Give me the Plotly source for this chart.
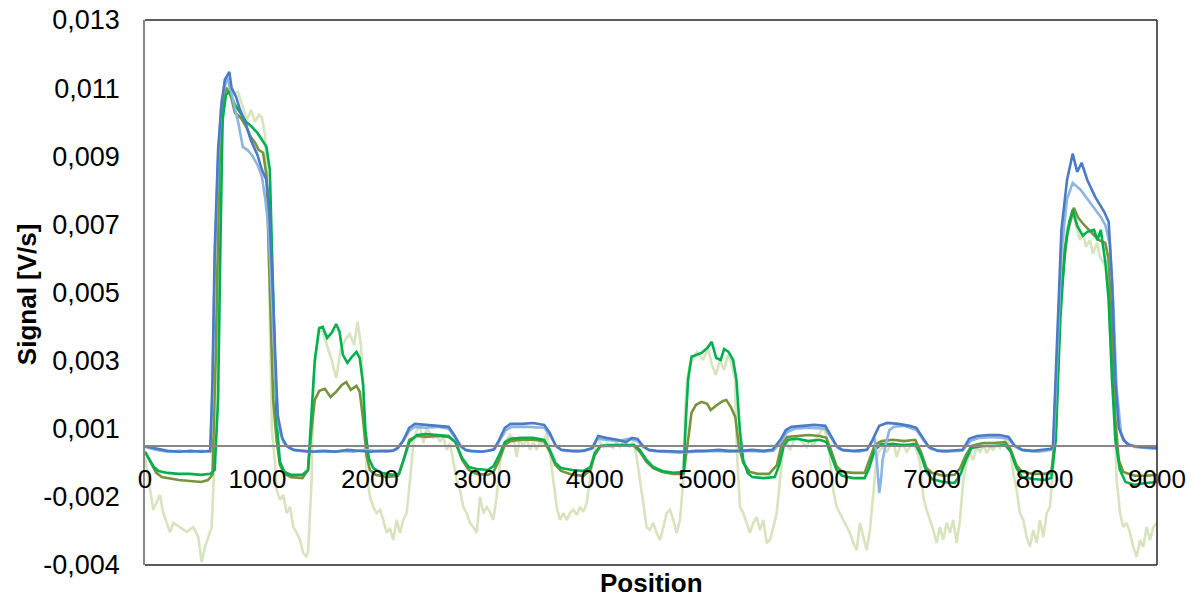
import plotly.graph_objects as go

# ---------------- data (position, signal in V/s) ----------------
series_dark_blue = [
    (0, -0.00002), (100, -0.00010), (200, -0.00016), (310, -0.00019), (400, -0.00016), (500, -0.00019),
    (580, -0.00016), (600, 0.00203), (620, 0.00604), (650, 0.00912), (680, 0.01051), (710, 0.01128),
    (750, 0.01152), (770, 0.01103), (810, 0.01075), (840, 0.01041), (900, 0.00989), (940, 0.00943),
    (1000, 0.00896), (1040, 0.00850), (1080, 0.00819), (1100, 0.00758), (1130, 0.00542), (1160, 0.00264),
    (1180, 0.00094), (1220, 0.00024), (1260, -0.00001), (1320, -0.00013), (1400, -0.00016), (1500, -0.00019),
    (1600, -0.00016), (1700, -0.00019), (1800, -0.00013), (1900, -0.00016), (2000, -0.00019), (2100, -0.00016),
    (2200, -0.00016), (2250, -0.00007), (2300, 0.00018), (2350, 0.00055), (2400, 0.00067), (2500, 0.00064),
    (2600, 0.00061), (2700, 0.00058), (2750, 0.00033), (2800, 0.00002), (2850, -0.00013), (2900, -0.00016),
    (3000, -0.00019), (3100, -0.00013), (3150, 0.00018), (3200, 0.00055), (3250, 0.00067), (3350, 0.00067),
    (3450, 0.00070), (3550, 0.00064), (3600, 0.00039), (3650, 0.00002), (3700, -0.00013), (3800, -0.00016),
    (3900, -0.00016), (3980, -0.00007), (4030, 0.00030), (4100, 0.00024), (4200, 0.00018), (4280, 0.00011),
    (4330, 0.00024), (4380, 0.00021), (4430, -0.00001), (4480, -0.00013), (4550, -0.00016), (4700, -0.00019),
    (4800, -0.00019), (4900, -0.00016), (5000, -0.00016), (5100, -0.00013), (5200, -0.00016), (5300, -0.00016),
    (5400, -0.00013), (5500, -0.00016), (5580, -0.00013), (5650, 0.00018), (5700, 0.00048), (5750, 0.00058),
    (5850, 0.00061), (5950, 0.00064), (6050, 0.00061), (6100, 0.00030), (6150, -0.00001), (6200, -0.00013),
    (6300, -0.00016), (6420, -0.00013), (6470, 0.00018), (6530, 0.00061), (6600, 0.00070), (6700, 0.00067),
    (6800, 0.00061), (6860, 0.00055), (6920, 0.00024), (6970, -0.00004), (7050, -0.00016), (7150, -0.00016),
    (7270, -0.00013), (7330, 0.00021), (7400, 0.00030), (7500, 0.00033), (7600, 0.00033), (7680, 0.00027),
    (7730, 0.00002), (7800, -0.00013), (7900, -0.00016), (8000, -0.00013), (8060, -0.00010), (8075, 0.00002),
    (8110, 0.00295), (8150, 0.00665), (8200, 0.00819), (8250, 0.00900), (8290, 0.00844), (8330, 0.00872),
    (8380, 0.00819), (8450, 0.00767), (8530, 0.00721), (8570, 0.00690), (8600, 0.00511), (8630, 0.00203),
    (8660, 0.00055), (8700, 0.00018), (8750, 0.00002), (8850, -0.00004), (9000, -0.00007),
]

series_light_blue = [
    (0, -0.00004), (100, -0.00013), (200, -0.00019), (300, -0.00016), (400, -0.00019), (500, -0.00016),
    (580, -0.00019), (600, 0.00150), (620, 0.00550), (650, 0.00880), (680, 0.01060), (730, 0.01137),
    (760, 0.01097), (800, 0.01035), (830, 0.00995), (870, 0.00921), (910, 0.00912), (950, 0.00896),
    (1000, 0.00866), (1040, 0.00829), (1070, 0.00758), (1100, 0.00665), (1130, 0.00449), (1160, 0.00203),
    (1190, 0.00055), (1230, 0.00011), (1280, -0.00007), (1350, -0.00016), (1450, -0.00019), (1550, -0.00016),
    (1650, -0.00019), (1750, -0.00016), (1850, -0.00019), (1950, -0.00013), (2050, -0.00016), (2150, -0.00019),
    (2230, -0.00013), (2290, 0.00011), (2350, 0.00045), (2400, 0.00058), (2500, 0.00055), (2600, 0.00058),
    (2700, 0.00052), (2760, 0.00024), (2810, -0.00004), (2860, -0.00016), (2950, -0.00019), (3050, -0.00016),
    (3110, -0.00010), (3160, 0.00018), (3210, 0.00048), (3260, 0.00058), (3400, 0.00058), (3550, 0.00055),
    (3610, 0.00027), (3660, -0.00004), (3720, -0.00016), (3850, -0.00019), (3970, -0.00010), (4020, 0.00021),
    (4100, 0.00018), (4200, 0.00014), (4300, 0.00021), (4380, 0.00014), (4430, -0.00004), (4490, -0.00016),
    (4600, -0.00019), (4750, -0.00022), (4900, -0.00019), (5050, -0.00016), (5200, -0.00019), (5350, -0.00016),
    (5500, -0.00019), (5590, -0.00016), (5660, 0.00014), (5710, 0.00042), (5780, 0.00052), (5900, 0.00055),
    (6050, 0.00052), (6110, 0.00021), (6160, -0.00007), (6220, -0.00016), (6350, -0.00019), (6420, -0.00013),
    (6460, 0.00008), (6490, 0.00024), (6510, -0.00053), (6530, -0.00146), (6545, -0.00106), (6560, -0.00044),
    (6590, 0.00008), (6620, 0.00048), (6660, 0.00058), (6750, 0.00061), (6860, 0.00048), (6930, 0.00014),
    (6990, -0.00010), (7100, -0.00019), (7270, -0.00016), (7340, 0.00014), (7420, 0.00024), (7550, 0.00027),
    (7680, 0.00021), (7740, -0.00004), (7820, -0.00016), (7950, -0.00019), (8060, -0.00013), (8080, 0.00000),
    (8110, 0.00250), (8150, 0.00600), (8200, 0.00760), (8250, 0.00810), (8320, 0.00789), (8410, 0.00748),
    (8500, 0.00705), (8540, 0.00680), (8580, 0.00620), (8610, 0.00450), (8640, 0.00180), (8680, 0.00040),
    (8720, 0.00010), (8800, -0.00004), (9000, -0.00010),
]

series_olive = [
    (0, -0.00019), (40, -0.00044), (100, -0.00084), (150, -0.00097), (200, -0.00100), (300, -0.00106),
    (400, -0.00109), (500, -0.00112), (560, -0.00106), (600, -0.00090), (630, 0.00295), (660, 0.00850),
    (700, 0.01066), (720, 0.01103), (760, 0.01082), (800, 0.01026), (850, 0.01011), (900, 0.00983),
    (940, 0.00952), (980, 0.00933), (1010, 0.00912), (1050, 0.00903), (1080, 0.00835), (1110, 0.00449),
    (1140, 0.00141), (1170, 0.00018), (1200, -0.00060), (1240, -0.00087), (1300, -0.00097), (1400, -0.00100),
    (1450, -0.00075), (1480, 0.00048), (1510, 0.00141), (1550, 0.00169), (1600, 0.00175), (1650, 0.00150),
    (1700, 0.00166), (1750, 0.00187), (1790, 0.00196), (1830, 0.00172), (1880, 0.00184), (1910, 0.00166),
    (1940, 0.00079), (1970, -0.00029), (2000, -0.00075), (2050, -0.00090), (2150, -0.00097), (2250, -0.00093),
    (2300, -0.00044), (2350, 0.00018), (2420, 0.00030), (2500, 0.00027), (2600, 0.00030), (2700, 0.00027),
    (2760, 0.00011), (2820, -0.00044), (2880, -0.00075), (2950, -0.00087), (3050, -0.00090), (3100, -0.00081),
    (3150, -0.00044), (3200, 0.00002), (3250, 0.00014), (3350, 0.00018), (3450, 0.00018), (3550, 0.00014),
    (3600, -0.00019), (3650, -0.00060), (3700, -0.00078), (3800, -0.00090), (3900, -0.00093), (3960, -0.00075),
    (4000, -0.00029), (4050, -0.00001), (4150, -0.00001), (4250, 0.00002), (4350, -0.00001), (4400, -0.00019),
    (4460, -0.00050), (4520, -0.00069), (4600, -0.00081), (4700, -0.00087), (4790, -0.00087), (4830, 0.00018),
    (4860, 0.00101), (4900, 0.00126), (4950, 0.00135), (5000, 0.00129), (5030, 0.00110), (5090, 0.00126),
    (5140, 0.00138), (5170, 0.00141), (5210, 0.00119), (5250, 0.00088), (5280, 0.00002), (5320, -0.00053),
    (5380, -0.00081), (5450, -0.00087), (5550, -0.00087), (5620, -0.00060), (5660, 0.00002), (5710, 0.00027),
    (5800, 0.00030), (5900, 0.00033), (6000, 0.00030), (6060, 0.00024), (6100, -0.00013), (6150, -0.00063),
    (6200, -0.00081), (6300, -0.00084), (6400, -0.00084), (6440, -0.00044), (6490, 0.00002), (6550, 0.00014),
    (6650, 0.00018), (6750, 0.00014), (6850, 0.00018), (6900, -0.00019), (6950, -0.00069), (7000, -0.00084),
    (7100, -0.00093), (7200, -0.00090), (7250, -0.00069), (7300, -0.00029), (7350, -0.00001), (7450, 0.00008),
    (7550, 0.00008), (7650, 0.00011), (7700, -0.00013), (7750, -0.00060), (7800, -0.00081), (7900, -0.00087),
    (8000, -0.00087), (8060, -0.00084), (8100, 0.00048), (8140, 0.00449), (8200, 0.00650), (8260, 0.00733),
    (8300, 0.00702), (8350, 0.00681), (8420, 0.00656), (8480, 0.00634), (8540, 0.00625), (8570, 0.00573),
    (8600, 0.00357), (8630, 0.00079), (8660, -0.00044), (8700, -0.00081), (8800, -0.00093), (8900, -0.00093),
    (9000, -0.00090),
]

series_green = [
    (0, -0.00019), (40, -0.00044), (80, -0.00066), (120, -0.00078), (200, -0.00084), (300, -0.00087),
    (400, -0.00087), (500, -0.00090), (580, -0.00087), (620, -0.00075), (650, 0.00141), (670, 0.00604),
    (690, 0.01004), (720, 0.01082), (750, 0.01090), (800, 0.01051), (850, 0.01026), (900, 0.00998),
    (950, 0.00983), (1000, 0.00964), (1040, 0.00943), (1080, 0.00921), (1110, 0.00850), (1140, 0.00449),
    (1170, 0.00079), (1200, -0.00050), (1240, -0.00081), (1300, -0.00090), (1400, -0.00090), (1450, -0.00075),
    (1480, 0.00079), (1510, 0.00264), (1550, 0.00363), (1580, 0.00366), (1620, 0.00332), (1660, 0.00348),
    (1700, 0.00375), (1730, 0.00351), (1760, 0.00280), (1800, 0.00255), (1840, 0.00274), (1880, 0.00289),
    (1910, 0.00270), (1940, 0.00187), (1960, 0.00048), (1990, -0.00038), (2030, -0.00069), (2100, -0.00084),
    (2200, -0.00090), (2260, -0.00087), (2300, -0.00044), (2350, 0.00011), (2420, 0.00033), (2500, 0.00036),
    (2600, 0.00033), (2700, 0.00030), (2760, 0.00011), (2820, -0.00038), (2880, -0.00066), (2950, -0.00072),
    (3050, -0.00075), (3100, -0.00063), (3150, -0.00029), (3200, 0.00011), (3250, 0.00021), (3350, 0.00024),
    (3450, 0.00024), (3550, 0.00018), (3600, -0.00013), (3650, -0.00053), (3700, -0.00069), (3800, -0.00075),
    (3900, -0.00078), (3960, -0.00066), (4000, -0.00023), (4050, -0.00001), (4150, 0.00002), (4250, 0.00002),
    (4350, 0.00002), (4400, -0.00013), (4460, -0.00044), (4520, -0.00066), (4600, -0.00078), (4700, -0.00084),
    (4790, -0.00081), (4810, 0.00079), (4830, 0.00203), (4860, 0.00274), (4900, 0.00280), (4950, 0.00286),
    (5000, 0.00301), (5040, 0.00320), (5080, 0.00270), (5120, 0.00264), (5150, 0.00298), (5190, 0.00289),
    (5230, 0.00264), (5260, 0.00203), (5290, 0.00048), (5320, -0.00044), (5360, -0.00084), (5400, -0.00097),
    (5500, -0.00100), (5600, -0.00097), (5640, -0.00060), (5680, -0.00001), (5720, 0.00018), (5800, 0.00021),
    (5900, 0.00014), (6000, 0.00018), (6060, 0.00011), (6100, -0.00029), (6150, -0.00075), (6200, -0.00093),
    (6300, -0.00100), (6400, -0.00100), (6440, -0.00069), (6490, -0.00013), (6550, 0.00005), (6650, 0.00005),
    (6750, 0.00002), (6850, 0.00005), (6900, -0.00029), (6950, -0.00081), (7000, -0.00103), (7100, -0.00112),
    (7200, -0.00115), (7250, -0.00090), (7300, -0.00044), (7350, -0.00007), (7450, -0.00001), (7550, -0.00001),
    (7650, 0.00002), (7700, -0.00019), (7750, -0.00069), (7800, -0.00097), (7900, -0.00103), (8000, -0.00106),
    (8060, -0.00100), (8100, 0.00018), (8140, 0.00388), (8180, 0.00604), (8220, 0.00690), (8250, 0.00727),
    (8290, 0.00678), (8340, 0.00647), (8380, 0.00659), (8440, 0.00665), (8470, 0.00634), (8500, 0.00665),
    (8540, 0.00567), (8570, 0.00449), (8600, 0.00203), (8630, 0.00018), (8670, -0.00075), (8720, -0.00112),
    (8800, -0.00121), (8900, -0.00115), (9000, -0.00112),
]

series_pale_green = [
    (0, -0.00035), (44, -0.00137), (74, -0.00198), (133, -0.00152), (163, -0.00208), (193, -0.00238),
    (222, -0.00266), (252, -0.00238), (311, -0.00251), (371, -0.00266), (430, -0.00251), (474, -0.00282),
    (504, -0.00359), (534, -0.00312), (563, -0.00282), (593, -0.00251), (622, -0.00013), (650, 0.00449),
    (676, 0.00912), (703, 0.01066), (738, 0.01106), (774, 0.01082), (827, 0.01090), (863, 0.01051),
    (907, 0.01004), (943, 0.01035), (978, 0.00998), (1014, 0.01020), (1040, 0.01011), (1067, 0.00958),
    (1094, 0.00758), (1112, 0.00357), (1129, 0.00048), (1156, -0.00053), (1171, -0.00137), (1200, -0.00167),
    (1230, -0.00152), (1260, -0.00208), (1290, -0.00189), (1319, -0.00251), (1349, -0.00269), (1378, -0.00291),
    (1408, -0.00331), (1438, -0.00343), (1452, -0.00322), (1467, -0.00208), (1482, -0.00106), (1500, 0.00203),
    (1540, 0.00357), (1580, 0.00351), (1620, 0.00311), (1660, 0.00264), (1700, 0.00209), (1740, 0.00295),
    (1780, 0.00326), (1820, 0.00344), (1860, 0.00311), (1890, 0.00381), (1920, 0.00311), (1940, 0.00187),
    (1956, 0.00018), (1971, -0.00084), (2001, -0.00158), (2030, -0.00189), (2060, -0.00208), (2090, -0.00198),
    (2119, -0.00229), (2149, -0.00269), (2179, -0.00254), (2208, -0.00291), (2238, -0.00229), (2268, -0.00269),
    (2297, -0.00229), (2327, -0.00208), (2357, -0.00106), (2386, 0.00008), (2416, 0.00048), (2446, 0.00058),
    (2475, 0.00008), (2505, 0.00055), (2534, 0.00039), (2564, 0.00024), (2594, 0.00033), (2623, 0.00011),
    (2653, 0.00027), (2683, -0.00013), (2712, 0.00008), (2742, -0.00053), (2772, -0.00106), (2801, -0.00137),
    (2831, -0.00189), (2861, -0.00208), (2890, -0.00238), (2920, -0.00251), (2950, -0.00269), (2979, -0.00158),
    (3009, -0.00208), (3039, -0.00189), (3068, -0.00204), (3097, -0.00229), (3127, -0.00158), (3157, -0.00053),
    (3186, -0.00004), (3216, 0.00018), (3246, 0.00033), (3275, 0.00024), (3305, -0.00035), (3335, 0.00024),
    (3364, -0.00004), (3394, 0.00024), (3424, -0.00013), (3453, 0.00011), (3483, -0.00013), (3513, 0.00011),
    (3542, 0.00002), (3572, 0.00039), (3602, -0.00023), (3631, -0.00106), (3661, -0.00189), (3691, -0.00229),
    (3720, -0.00208), (3750, -0.00229), (3779, -0.00208), (3809, -0.00198), (3839, -0.00214), (3868, -0.00189),
    (3898, -0.00204), (3928, -0.00177), (3957, -0.00106), (3987, -0.00035), (4017, 0.00018), (4046, 0.00011),
    (4076, -0.00004), (4106, 0.00008), (4135, 0.00002), (4165, -0.00007), (4194, 0.00011), (4224, -0.00004),
    (4254, 0.00018), (4283, 0.00002), (4313, -0.00004), (4343, 0.00011), (4373, -0.00035), (4402, -0.00106),
    (4432, -0.00189), (4461, -0.00251), (4491, -0.00260), (4520, -0.00238), (4550, -0.00269), (4580, -0.00291),
    (4610, -0.00251), (4639, -0.00208), (4669, -0.00198), (4698, -0.00229), (4728, -0.00269), (4758, -0.00229),
    (4787, -0.00106), (4802, 0.00101), (4820, 0.00203), (4847, 0.00249), (4909, 0.00289), (4962, 0.00264),
    (5007, 0.00301), (5043, 0.00249), (5078, 0.00218), (5114, 0.00264), (5149, 0.00233), (5185, 0.00280),
    (5220, 0.00249), (5247, 0.00203), (5262, -0.00004), (5291, -0.00189), (5321, -0.00208), (5351, -0.00238),
    (5380, -0.00269), (5410, -0.00238), (5440, -0.00220), (5469, -0.00260), (5499, -0.00229), (5529, -0.00300),
    (5558, -0.00291), (5588, -0.00251), (5618, -0.00208), (5647, -0.00106), (5677, -0.00004), (5707, 0.00008),
    (5736, -0.00013), (5766, 0.00011), (5796, 0.00024), (5825, 0.00018), (5855, 0.00008), (5884, -0.00004),
    (5914, 0.00018), (5944, -0.00004), (5973, 0.00027), (6003, 0.00039), (6032, 0.00058), (6062, 0.00027),
    (6091, -0.00035), (6121, -0.00137), (6151, -0.00189), (6180, -0.00208), (6210, -0.00229), (6240, -0.00251),
    (6269, -0.00269), (6299, -0.00300), (6329, -0.00322), (6358, -0.00238), (6388, -0.00282), (6418, -0.00322),
    (6447, -0.00260), (6477, -0.00137), (6507, -0.00035), (6536, -0.00013), (6566, -0.00004), (6596, -0.00019),
    (6625, -0.00004), (6655, 0.00011), (6685, -0.00035), (6714, -0.00004), (6744, 0.00002), (6774, -0.00019),
    (6803, -0.00004), (6833, 0.00008), (6863, -0.00013), (6892, -0.00053), (6922, -0.00158), (6951, -0.00198),
    (6981, -0.00229), (7010, -0.00260), (7040, -0.00300), (7070, -0.00251), (7099, -0.00291), (7129, -0.00238),
    (7159, -0.00269), (7188, -0.00229), (7218, -0.00300), (7248, -0.00229), (7277, -0.00106), (7307, -0.00053),
    (7337, -0.00023), (7366, -0.00044), (7396, -0.00004), (7426, -0.00019), (7455, 0.00002), (7485, -0.00023),
    (7515, -0.00004), (7544, -0.00013), (7574, 0.00002), (7604, -0.00007), (7633, 0.00011), (7663, 0.00018),
    (7692, -0.00004), (7722, -0.00084), (7752, -0.00137), (7781, -0.00208), (7811, -0.00229), (7841, -0.00282),
    (7870, -0.00312), (7900, -0.00260), (7930, -0.00300), (7959, -0.00229), (7989, -0.00282), (8019, -0.00208),
    (8048, -0.00189), (8078, -0.00053), (8108, 0.00203), (8137, 0.00449), (8164, 0.00604), (8190, 0.00662),
    (8226, 0.00690), (8253, 0.00715), (8280, 0.00678), (8315, 0.00634), (8342, 0.00656), (8368, 0.00613),
    (8404, 0.00634), (8431, 0.00592), (8466, 0.00625), (8493, 0.00583), (8528, 0.00561), (8555, 0.00573),
    (8582, 0.00357), (8611, 0.00203), (8641, -0.00106), (8671, -0.00208), (8700, -0.00251), (8730, -0.00238),
    (8760, -0.00269), (8789, -0.00312), (8819, -0.00343), (8849, -0.00291), (8878, -0.00312), (8908, -0.00251),
    (8938, -0.00291), (8967, -0.00251), (9000, -0.00238),
]

# ---------------- axes ----------------
x_tick_values = [0, 1000, 2000, 3000, 4000, 5000, 6000, 7000, 8000, 9000]
x_tick_labels = ["0", "1000", "2000", "3000", "4000", "5000", "6000", "7000", "8000", "9000"]

y_range = [-0.0036792, 0.0131208]
y_tick_values = [-0.0036792, -0.0015792, 0.0005208, 0.0026208, 0.0047208,
                 0.0068208, 0.0089208, 0.0110208, 0.0131208]
y_tick_labels = ["-0,004", "-0,002", "0,001", "0,003", "0,005", "0,007", "0,009", "0,011", "0,013"]

FONT = "Liberation Sans, Arial, sans-serif"

traces = [
    ("pale green", series_pale_green, "#D7E4BD"),
    ("olive", series_olive, "#77933C"),
    ("green", series_green, "#00B050"),
    ("light blue", series_light_blue, "#8EB4E3"),
    ("dark blue", series_dark_blue, "#4A7BC4"),
]

fig = go.Figure()
for name, pts, color in traces:
    xs = [p[0] for p in pts]
    ys = [p[1] for p in pts]
    fig.add_trace(go.Scatter(x=xs, y=ys, mode="lines", name=name,
                             line=dict(color=color, width=2.6), hoverinfo="skip"))

zero_pos = (0 - y_range[0]) / (y_range[1] - y_range[0])

fig.update_layout(
    width=1192, height=597,
    margin=dict(l=145, r=35, t=20, b=32),
    paper_bgcolor="white", plot_bgcolor="white",
    showlegend=False,
    font=dict(family=FONT, color="black"),
    xaxis=dict(range=[0, 9000], tickvals=x_tick_values, ticktext=x_tick_labels,
               showgrid=False, zeroline=False, showline=True, linecolor="#868686", linewidth=1.5,
               anchor="free", position=zero_pos, ticks="", ticklabelstandoff=10, automargin=False,
               tickfont=dict(size=26, family=FONT, color="black")),
    yaxis=dict(range=y_range, tickvals=y_tick_values, ticktext=y_tick_labels,
               showgrid=False, zeroline=False, showline=True, linecolor="#868686", linewidth=1.5,
               ticks="", ticklabelstandoff=18, automargin=False,
               tickfont=dict(size=27, family=FONT, color="black")),
    shapes=[
        dict(type="line", xref="paper", yref="paper", x0=0, x1=1, y0=1, y1=1,
             line=dict(color="#262626", width=1.5)),
        dict(type="line", xref="paper", yref="paper", x0=1, x1=1, y0=0, y1=1,
             line=dict(color="#262626", width=1.5)),
        dict(type="line", xref="paper", yref="paper", x0=0, x1=1, y0=0, y1=0,
             line=dict(color="#262626", width=1.5)),
    ],
    annotations=[
        dict(text="<b>Signal [V/s]</b>", xref="paper", yref="paper", x=-0.1166, y=0.497,
             textangle=-90, showarrow=False, xanchor="center", yanchor="middle",
             font=dict(size=26, family=FONT, color="black")),
        dict(text="<b>Position</b>", xref="paper", yref="paper", x=0.5, y=-0.033,
             showarrow=False, xanchor="center", yanchor="middle",
             font=dict(size=26, family=FONT, color="black")),
    ],
)

fig.write_html("out.html")
